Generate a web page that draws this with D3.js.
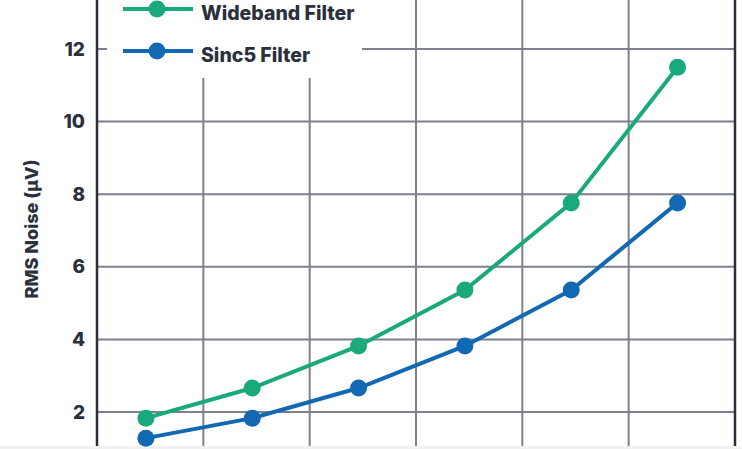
<!DOCTYPE html>
<html><head><meta charset="utf-8">
<script src="https://cdn.jsdelivr.net/npm/d3@7"></script>
<style>
html,body{margin:0;padding:0;background:#fff;}
svg{display:block;}
text{font-family:Inter,"Noto Sans",sans-serif;font-weight:800;fill:#2c2f3c;}
</style></head>
<body>
<svg id="chart" width="742" height="449"></svg>
<script>
const pointIndex = [0, 1, 2, 3, 4, 5];
const wideband = [1.83, 2.66, 3.82, 5.36, 7.76, 11.5];
const sinc5 = [1.28, 1.83, 2.66, 3.82, 5.36, 7.76];
const yTicks = [2, 4, 6, 8, 10, 12];
const seriesNames = ["Wideband Filter", "Sinc5 Filter"];
const yLabel = "RMS Noise (\u00b5V)";

const svg = d3.select("#chart");
const W = 742, H = 449;
const left = 97, right = 735, bottom = 446;
const green = "#19a97b", blue = "#1268b3", grid = "#7e808d", dark = "#2b2e3b";

const x = d3.scaleLinear().domain([0, 6]).range([left, right]);
const y = d3.scaleLinear().domain([2, 12]).range([412, 49]);

// bottom light strip
svg.append("rect").attr("x", 0).attr("y", bottom).attr("width", W).attr("height", H - bottom).attr("fill", "#f1f1f3");

// gridlines
svg.append("g").selectAll("line").data(yTicks).join("line")
  .attr("x1", left).attr("x2", right).attr("y1", d => y(d)).attr("y2", d => y(d))
  .attr("stroke", grid).attr("stroke-width", 2);
svg.append("g").selectAll("line").data([1, 2, 3, 4, 5]).join("line")
  .attr("x1", d => x(d)).attr("x2", d => x(d)).attr("y1", 0).attr("y2", bottom)
  .attr("stroke", grid).attr("stroke-width", 2);

// legend background
svg.append("rect").attr("x", 107).attr("y", 0).attr("width", 255).attr("height", 78).attr("fill", "#fff");

// axis
const yAxis = d3.axisLeft(y).tickValues(yTicks).tickSize(0).tickPadding(12).tickFormat(d3.format("d"));
const ag = svg.append("g").attr("transform", `translate(${left},0)`).call(yAxis);
ag.select(".domain").remove();
ag.selectAll("text").attr("font-size", 19).attr("fill", "#2c2f3c").style("font-family", "Inter, 'Noto Sans', sans-serif").style("font-weight", 800);
svg.append("line").attr("x1", left).attr("x2", left).attr("y1", 0).attr("y2", bottom).attr("stroke", dark).attr("stroke-width", 2.5);
svg.append("line").attr("x1", right).attr("x2", right).attr("y1", 0).attr("y2", bottom).attr("stroke", dark).attr("stroke-width", 2.5);

svg.append("text").attr("transform", `translate(38,${229}) rotate(-90)`).attr("text-anchor", "middle")
  .attr("font-size", 18).text(yLabel);

// series
const xp = i => x(i + 0.46);
const line = d3.line().x((d, i) => xp(i)).y(d => y(d));
[[wideband, green], [sinc5, blue]].forEach(([vals, c]) => {
  svg.append("path").datum(vals).attr("d", line).attr("fill", "none").attr("stroke", c).attr("stroke-width", 4);
  svg.append("g").selectAll("circle").data(vals).join("circle")
    .attr("cx", (d, i) => xp(i)).attr("cy", d => y(d)).attr("r", 8.5).attr("fill", c);
});

// legend
const lg = svg.append("g");
[[seriesNames[0], green, 9], [seriesNames[1], blue, 51]].forEach(([n, c, yy]) => {
  lg.append("line").attr("x1", 123).attr("x2", 193).attr("y1", yy).attr("y2", yy).attr("stroke", c).attr("stroke-width", 4);
  lg.append("circle").attr("cx", 157).attr("cy", yy).attr("r", 8.5).attr("fill", c);
  lg.append("text").attr("x", 201).attr("y", yy + 10.5).attr("font-size", 19.5).text(n);
});
</script>
</body></html>
